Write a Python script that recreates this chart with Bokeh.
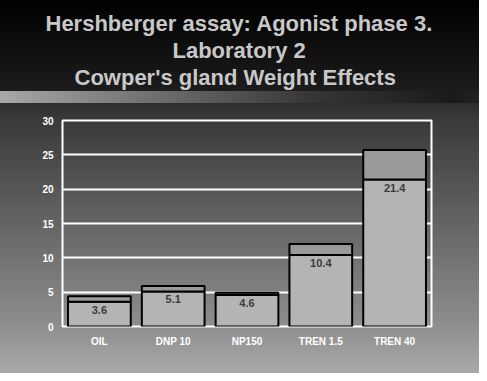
from bokeh.plotting import figure
from bokeh.models import Range1d, FactorRange, Title, ColumnDataSource, FixedTicker
from bokeh.core.properties import value
from bokeh.embed import file_html
from bokeh.resources import INLINE

categories = ["OIL", "DNP 10", "NP150", "TREN 1.5", "TREN 40"]
means = [3.6, 5.1, 4.6, 10.4, 21.4]
sds = [0.8, 0.8, 0.3, 1.6, 4.3]
y_ticks = [0, 5, 10, 15, 20, 25, 30]
title_lines = ["Hershberger assay: Agonist phase 3.",
               "Laboratory 2",
               "Cowper's gland Weight Effects"]

tops = [m + s for m, s in zip(means, sds)]
labels = [f"{m:.1f}" for m in means]
src = ColumnDataSource(dict(cat=categories, mean=means, top=tops, label=labels))

FONT = "Liberation Sans"

p = figure(width=479, height=373, title=None,
           x_range=FactorRange(factors=categories, range_padding=0),
           y_range=Range1d(0, 30),
           output_backend="svg", toolbar_location=None,
           min_border_left=62, min_border_right=48,
           min_border_bottom=47, min_border_top=120,
           background_fill_alpha=0, border_fill_alpha=0)

p.styles = {
    "background": (
        "linear-gradient(to right, #a8a8a8 0%, #6a6a6a 35%, #363636 65%, #1a1a1a 95%, #222 100%) "
        "0 91px / 100% 12px no-repeat, "
        "linear-gradient(to bottom, #000000 0px, #1c1c1c 90px, #2e2e2e 104px, "
        "#3a3a3a 120px, #8e8e8e 326px, #aaaaaa 373px)"
    )
}

# spacer between the title block and the plot frame
p.add_layout(Title(text=" ", text_font_size="1px", standoff=28), "above")

offsets = [-17, 110, 12]
for i in reversed(range(len(title_lines))):
    p.add_layout(Title(text=title_lines[i], align="left",
                       text_font=FONT, text_font_size="22px",
                       text_font_style="bold", text_color="#c8c8c8",
                       standoff=0, offset=offsets[i]), "above")

p.vbar(x="cat", bottom=0, top="mean", width=0.85, source=src,
       fill_color="#b4b4b4", line_color="black", line_width=2)
p.vbar(x="cat", bottom="mean", top="top", width=0.85, source=src,
       fill_color="#9a9a9a", line_color="black", line_width=2)
p.text(x="cat", y="mean", text="label", source=src,
       text_align="center", text_baseline="top", y_offset=4,
       text_font=value(FONT), text_font_style="bold",
       text_font_size="11px", text_color="#3c3c3c")

p.outline_line_color = "white"
p.outline_line_width = 2
p.xgrid.grid_line_color = None
p.ygrid.grid_line_color = "white"
p.ygrid.grid_line_width = 2

p.yaxis.ticker = FixedTicker(ticks=y_ticks)
for ax in (p.xaxis, p.yaxis):
    ax.axis_line_color = None
    ax.major_tick_line_color = None
    ax.minor_tick_line_color = None
    ax.major_label_text_color = "white"
    ax.major_label_text_font = FONT
    ax.major_label_text_font_style = "bold"
    ax.major_label_text_font_size = "10px"
p.yaxis.major_label_standoff = 3
p.xaxis.major_label_standoff = 3

open("out.html", "w").write(file_html(p, INLINE))
